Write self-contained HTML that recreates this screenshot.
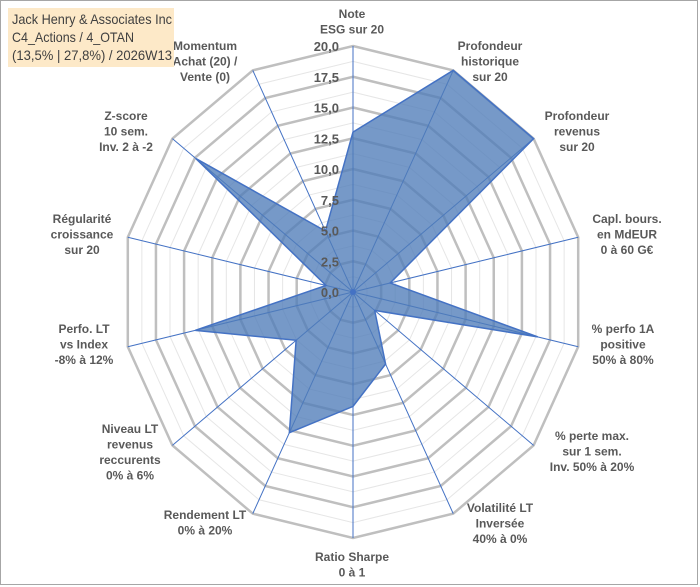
<!DOCTYPE html>
<html><head><meta charset="utf-8"><style>
body{margin:0;background:#fff;}
svg{display:block;font-family:"Liberation Sans",Arial,sans-serif;}
.lbl{font-size:12px;font-weight:bold;fill:#595959;text-anchor:middle;}
.tick{font-size:13px;font-weight:bold;fill:#595959;text-anchor:end;}
</style></head><body>
<svg id="chart" width="700" height="587" viewBox="0 0 700 587">
<rect x="0.5" y="0.5" width="697" height="584" fill="#fff" stroke="#a6a6a6"/>
<g id="grid"></g>
<g id="axes"></g>
<g id="series"></g>
<g id="ticks"></g>
<g id="labels"></g>
<g>
<rect x="8" y="8" width="166" height="59" fill="#fde9c8"/>
<text x="12" y="24" font-size="14" fill="#404040" textLength="160" lengthAdjust="spacingAndGlyphs">Jack Henry &amp; Associates Inc</text>
<text x="12" y="42" font-size="14" fill="#404040" textLength="122" lengthAdjust="spacingAndGlyphs">C4_Actions / 4_OTAN</text>
<text x="12" y="60" font-size="14" fill="#404040" textLength="160" lengthAdjust="spacingAndGlyphs">(13,5% | 27,8%) / 2026W13</text>
</g>
</svg>
<script>
const categories = [["Note","ESG sur 20"],["Profondeur","historique","sur 20"],["Profondeur","revenus","sur 20"],["Capl. bours.","en MdEUR","0 à 60 G€"],["% perfo 1A","positive","50% à 80%"],["% perte max.","sur 1 sem.","Inv. 50% à 20%"],["Volatilité LT","Inversée","40% à 0%"],["Ratio Sharpe","0 à 1"],["Rendement LT","0% à 20%"],["Niveau LT","revenus","reccurents","0% à 6%"],["Perfo. LT","vs Index","-8% à 12%"],["Régularité","croissance","sur 20"],["Z-score","10 sem.","Inv. 2 à -2"],["Momentum","Achat (20) /","Vente (0)"]];
const values = [13, 20, 20, 3.3, 16.4, 2.4, 6.5, 9.3, 12.7, 6.3, 14, 2.4, 17.4, 5.5];
const tickLabels = ["0,0","2,5","5,0","7,5","10,0","12,5","15,0","17,5","20,0"];
const maxVal = 20;
const cx=353, cy=292, rx=231, ry=246;
const NS="http://www.w3.org/2000/svg";
const N=categories.length;
function pt(i,v){const a=i*2*Math.PI/N;const f=v/maxVal;return [cx+rx*f*Math.sin(a), cy-ry*f*Math.cos(a)];}
function mk(tag,attrs,parent){const e=document.createElementNS(NS,tag);for(const k in attrs)e.setAttribute(k,attrs[k]);parent.appendChild(e);return e;}
const grid=document.getElementById('grid');
for(let l=1;l<=16;l++){
  const v=l*1.25;const pts=[];for(let i=0;i<N;i++)pts.push(pt(i,v).join(','));
  const major=l%2===0;
  const p=mk('polygon',{points:pts.join(' '),fill:'none',stroke:major?'#bfbfbf':'#e6e6e6','stroke-width':major?2.5:1},grid);
  
  
}
const axes=document.getElementById('axes');
for(let i=0;i<N;i++){const [x,y]=pt(i,maxVal);
  const l=mk('line',{x1:cx,y1:cy,x2:x,y2:y,stroke:'#4472c4','stroke-width':1},axes);
  
  
}
const ser=document.getElementById('series');
const sp=values.map((v,i)=>pt(i,v).join(',')).join(' ');
const poly=mk('polygon',{points:sp,fill:'#4f7cb8','fill-opacity':0.78,stroke:'#4472c4','stroke-width':1.5},ser);


const dot=mk('circle',{cx:cx,cy:cy,r:3,fill:'#4472c4'},ser);


const ticks=document.getElementById('ticks');
tickLabels.forEach((t,k)=>{const y=cy-ry*(k*2.5)/maxVal;
  const e=mk('text',{x:339,y:y+5,class:'tick'},ticks);e.textContent=t;
  
  
});
const labelPos=[[352,14],[490,46],[577,116],[627,219],[623,329],[592,436],[500,508],[352,557],[205,515],[130,429],[84,329],[82,219],[126,116],[205,46]];
const labels=document.getElementById('labels');
categories.forEach((lines,i)=>{
  const g=mk('g',{},labels);
  
  
  lines.forEach((s,j)=>{const e=mk('text',{x:labelPos[i][0],y:labelPos[i][1]+j*15.5+4,class:'lbl'},g);e.textContent=s;});
});
</script>
</body></html>
